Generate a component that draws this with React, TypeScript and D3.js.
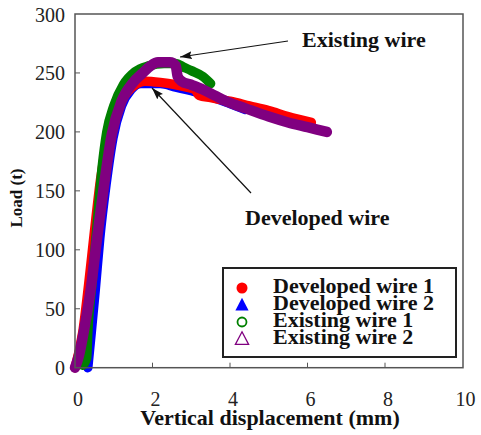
import React from "react";
import * as d3 from "d3";

const W = 481;
const H = 435;

const xTicks = [0, 2, 4, 6, 8, 10];
const yTicks = [0, 50, 100, 150, 200, 250, 300];

const seriesNames = ["Developed wire 1", "Developed wire 2", "Existing wire 1", "Existing wire 2"];
const seriesColors = ["#ff0000", "#0000ff", "#008000", "#800080"];

// [displacement mm, load t]
const developed1: [number, number][] = [
  [0, 0], [0.2, 30], [0.35, 70], [0.5, 115], [0.66, 160], [0.85, 195], [1.07, 218], [1.33, 233],
  [1.6, 241], [1.8, 243], [2.2, 242], [2.6, 240], [3.0, 237], [3.1, 236], [3.2, 231],
  [3.5, 229], [4.0, 226], [4.5, 222], [5.0, 218], [5.5, 213], [6.1, 208],
];
const developed2: [number, number][] = [
  [0.33, 0], [0.42, 30], [0.52, 65], [0.64, 110], [0.8, 155], [0.98, 195], [1.2, 222],
  [1.45, 236], [1.7, 241], [2.2, 241], [2.6, 238], [3.0, 235], [3.5, 230], [4.0, 224], [4.4, 219],
];
const existing1: [number, number][] = [
  [0.2, 2], [0.3, 8], [0.33, 30], [0.45, 75], [0.58, 125], [0.7, 170], [0.82, 200], [1.0, 222],
  [1.25, 240], [1.55, 251], [1.9, 256], [2.3, 258], [2.6, 258], [2.8, 255], [3.0, 252],
  [3.3, 247], [3.5, 241],
];
const existing2: [number, number][] = [
  [0, 0], [0.1, 10], [0.25, 35], [0.4, 65], [0.57, 110], [0.75, 155], [0.95, 198], [1.2, 226],
  [1.5, 242], [1.75, 250], [1.95, 256], [2.14, 259], [2.45, 259], [2.6, 256],
  [2.65, 247], [2.75, 243], [3.0, 240], [3.3, 236], [3.6, 231], [3.9, 226], [4.4, 220],
  [5.0, 213], [5.5, 208], [6.0, 204], [6.5, 200],
];

const seriesData = [developed1, developed2, existing1, existing2];
const drawOrder = [1, 0, 2, 3];

export default function App() {
  const left = 75, right = 463, top = 14, bottom = 367.7;
  const x = d3.scaleLinear().domain([0, 10]).range([left, right - 0.5]);
  const y = d3.scaleLinear().domain([0, 300]).range([bottom, top]);
  const line = d3.line<[number, number]>()
    .x((d) => x(d[0]))
    .y((d) => y(d[1]))
    .curve(d3.curveMonotoneX);

  const serif = "'Liberation Serif', 'Times New Roman', serif";
  const legX = 223, legY = 268, legW = 233, legH = 89;
  const markerX = 242;
  const rowBase = [293, 310, 327, 344];

  const tri = (cx: number, cy: number, s: number) =>
    `M${cx},${cy - s * 0.6} L${cx + s * 0.55},${cy + s * 0.45} L${cx - s * 0.55},${cy + s * 0.45} Z`;

  return (
    <svg width={W} height={H} style={{ position: "absolute", left: 0, top: 0, background: "#fff" }}
      fontFamily={serif}>
      <defs>
        <marker id="arr" viewBox="0 0 12 8" refX="12" refY="4" markerWidth="12" markerHeight="8"
          markerUnits="userSpaceOnUse" orient="auto">
          <path d="M0,0 L12,4 L0,8 L2,4 Z" fill="#111" />
        </marker>
      </defs>
      <rect x={0} y={0} width={W} height={H} fill="#fff" />

      {drawOrder.map((i) => (
        <path key={i} d={line(seriesData[i]) || ""} fill="none" stroke={seriesColors[i]}
          strokeWidth={i === 3 ? 10.5 : 9.5} strokeLinecap="round" strokeLinejoin="round" />
      ))}

      <rect x={left} y={top} width={right - left} height={bottom - top} fill="none" stroke="#555" strokeWidth={1.5} />

      {yTicks.map((t) => (
        <g key={"y" + t}>
          {t > 0 && t < 300 && <line x1={left} x2={left + 5} y1={y(t)} y2={y(t)} stroke="#555" strokeWidth={1} />}
          <text x={65} y={y(t) + 7.5} fontSize={20} textAnchor="end" fill="#222">{t}</text>
        </g>
      ))}
      {xTicks.map((t) => (
        <g key={"x" + t}>
          {t > 0 && t < 10 && <line x1={x(t)} x2={x(t)} y1={bottom} y2={bottom - 5} stroke="#555" strokeWidth={1} />}
          <text x={x(t) + 3} y={406} fontSize={20} textAnchor="middle" fill="#222">{t}</text>
        </g>
      ))}

      <text x={270} y={425} fontSize={22} fontWeight="bold" textAnchor="middle" fill="#111">
        Vertical displacement (mm)
      </text>
      <text transform={`translate(22,198) rotate(-90)`} fontSize={17} fontWeight="bold" textAnchor="middle" fill="#111">
        Load (t)
      </text>

      <line x1={288} y1={41} x2={180} y2={57} stroke="#111" strokeWidth={1.2} markerEnd="url(#arr)" />
      <text x={302} y={47} fontSize={22} fontWeight="bold" fill="#111">Existing wire</text>
      <line x1={251} y1={193} x2={152} y2={88} stroke="#111" strokeWidth={1.2} markerEnd="url(#arr)" />
      <text x={245} y={225} fontSize={22} fontWeight="bold" fill="#111">Developed wire</text>

      <rect x={legX} y={legY} width={legW} height={legH} fill="#fff" stroke="#222" strokeWidth={2} />
      <circle cx={markerX} cy={rowBase[0] - 5} r={5.5} fill={seriesColors[0]} />
      <path d={tri(markerX, rowBase[1] - 5, 12)} fill={seriesColors[1]} />
      <circle cx={markerX} cy={rowBase[2] - 5} r={4.5} fill="none" stroke={seriesColors[2]} strokeWidth={1.8} />
      <path d={tri(markerX, rowBase[3] - 5, 12)} fill="none" stroke={seriesColors[3]} strokeWidth={1.3} />
      {seriesNames.map((n, i) => (
        <text key={n} x={273} y={rowBase[i]} fontSize={22} fontWeight="bold" fill="#111">{n}</text>
      ))}
    </svg>
  );
}
